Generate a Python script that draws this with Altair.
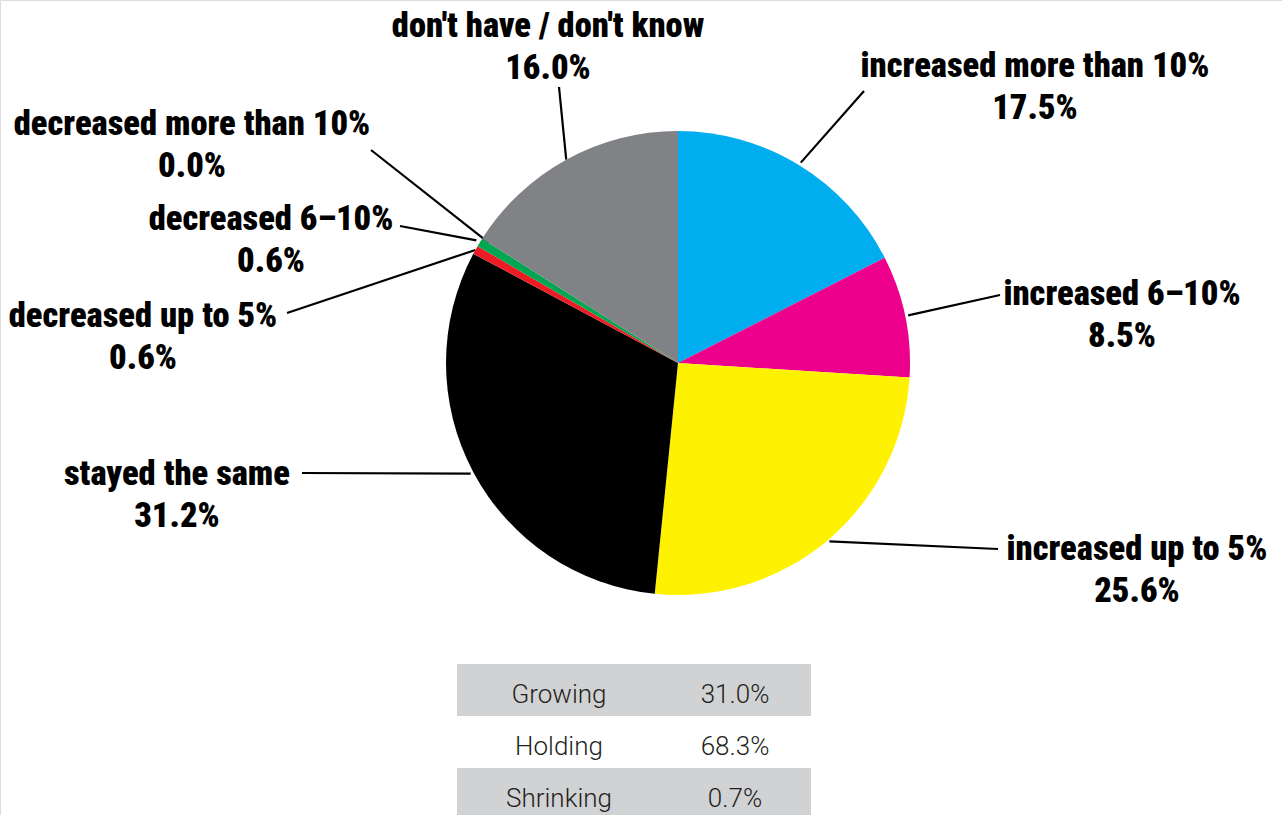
import altair as alt
import pandas as pd
import numpy as np

# ---- data ----
categories = ["increased more than 10%", "increased 6–10%", "increased up to 5%",
              "stayed the same", "decreased up to 5%", "decreased 6–10%",
              "decreased more than 10%", "don't have / don't know"]
shares = [17.5, 8.5, 25.6, 31.2, 0.6, 0.6, 0.0, 16.0]
colors = ["#00aeef", "#ec008c", "#fff200", "#000000", "#ed1c24", "#00a651",
          "#7a7c80", "#808285"]

table_labels = ["Growing", "Holding", "Shrinking"]
table_values = ["31.0%", "68.3%", "0.7%"]

# ---- layout (pixels) ----
W, H = 1282, 815
CX, CY, R = 678, 363, 232
label_x = [1035, 1122, 1137, 177, 143, 271, 192, 548]
label_y = [77, 305, 560, 485, 327, 230, 135, 37]
leader_x = [864, 1000, 998, 302, 287, 400, 371, 559]
leader_y = [91, 295, 549, 473, 313, 226, 150, 87]
leader_r = [235, 235, 234, 235, 232, 236, 224, 232]
row_top = [664, 716, 768]
row_h = 52
row_shaded = [True, False, True]
tab_x0, tab_x1 = 457, 811
tab_label_x, tab_value_x = 559, 735

# ---- derived tables ----
total = sum(shares)
cum = np.cumsum([0] + shares[:-1])
mid = [(c + s / 2) / total * 2 * np.pi for c, s in zip(cum, shares)]
pie = pd.DataFrame({"cat": categories, "share": shares, "idx": range(len(shares))})
labels = pd.DataFrame({
    "text": [f"{c}\n{s:.1f}%" for c, s in zip(categories, shares)],
    "x": label_x, "y": label_y,
})
leaders = pd.DataFrame({
    "x": [CX + r * np.sin(a) for r, a in zip(leader_r, mid)],
    "y": [CY - r * np.cos(a) for r, a in zip(leader_r, mid)],
    "x2": leader_x, "y2": leader_y,
})
rows = pd.DataFrame({
    "label": table_labels, "value": table_values,
    "y0": row_top, "y1": [t + row_h for t in row_top],
    "yt": [t + 39 for t in row_top],
    "shaded": row_shaded,
    "x0": tab_x0, "x1": tab_x1, "xl": tab_label_x, "xv": tab_value_x,
})

xs = alt.Scale(domain=[0, W], range=[0, W], nice=False, zero=False)
ys = alt.Scale(domain=[0, H], range=[0, H], nice=False, zero=False)

BOLD = "Roboto Condensed, DejaVu Sans Condensed, sans-serif"

arc = alt.Chart(pie).mark_arc(radius=R).encode(
    theta=alt.Theta("share:Q", stack=True),
    order=alt.Order("idx:Q"),
    color=alt.Color("cat:N", scale=alt.Scale(domain=categories, range=colors), legend=None),
    x=alt.value(CX), y=alt.value(CY),
)

rules = alt.Chart(leaders).mark_rule(color="black", strokeWidth=2.2).encode(
    x=alt.X("x:Q", scale=xs, axis=None), y=alt.Y("y:Q", scale=ys, axis=None),
    x2="x2:Q", y2="y2:Q",
)

texts = alt.Chart(labels).mark_text(
    font=BOLD, fontWeight=900, fontSize=34.5, lineBreak="\n", lineHeight=42,
    align="center", baseline="alphabetic", color="black",
).encode(
    x=alt.X("x:Q", scale=xs, axis=None), y=alt.Y("y:Q", scale=ys, axis=None), text="text:N",
)

boxes = alt.Chart(rows).transform_filter("datum.shaded").mark_rect(color="#d1d2d4").encode(
    x=alt.X("x0:Q", scale=xs, axis=None), x2="x1:Q",
    y=alt.Y("y0:Q", scale=ys, axis=None), y2="y1:Q",
)

TFONT = "Roboto, Liberation Sans, sans-serif"
tlab = alt.Chart(rows).mark_text(
    font=TFONT, fontWeight=300, fontSize=26, align="center", baseline="alphabetic", color="#231f20",
).encode(x=alt.X("xl:Q", scale=xs, axis=None), y=alt.Y("yt:Q", scale=ys, axis=None), text="label:N")
tval = alt.Chart(rows).mark_text(
    font=TFONT, fontWeight=300, fontSize=26, align="center", baseline="alphabetic", color="#231f20",
).encode(x=alt.X("xv:Q", scale=xs, axis=None), y=alt.Y("yt:Q", scale=ys, axis=None), text="value:N")

chart = alt.layer(boxes, tlab, tval, rules, arc, texts).properties(
    width=W, height=H, padding=0, autosize=alt.AutoSizeParams(type="none"),
).configure_view(stroke=None).configure(background="white")

chart.save("out.html", embed_options={"renderer": "svg", "actions": False})
